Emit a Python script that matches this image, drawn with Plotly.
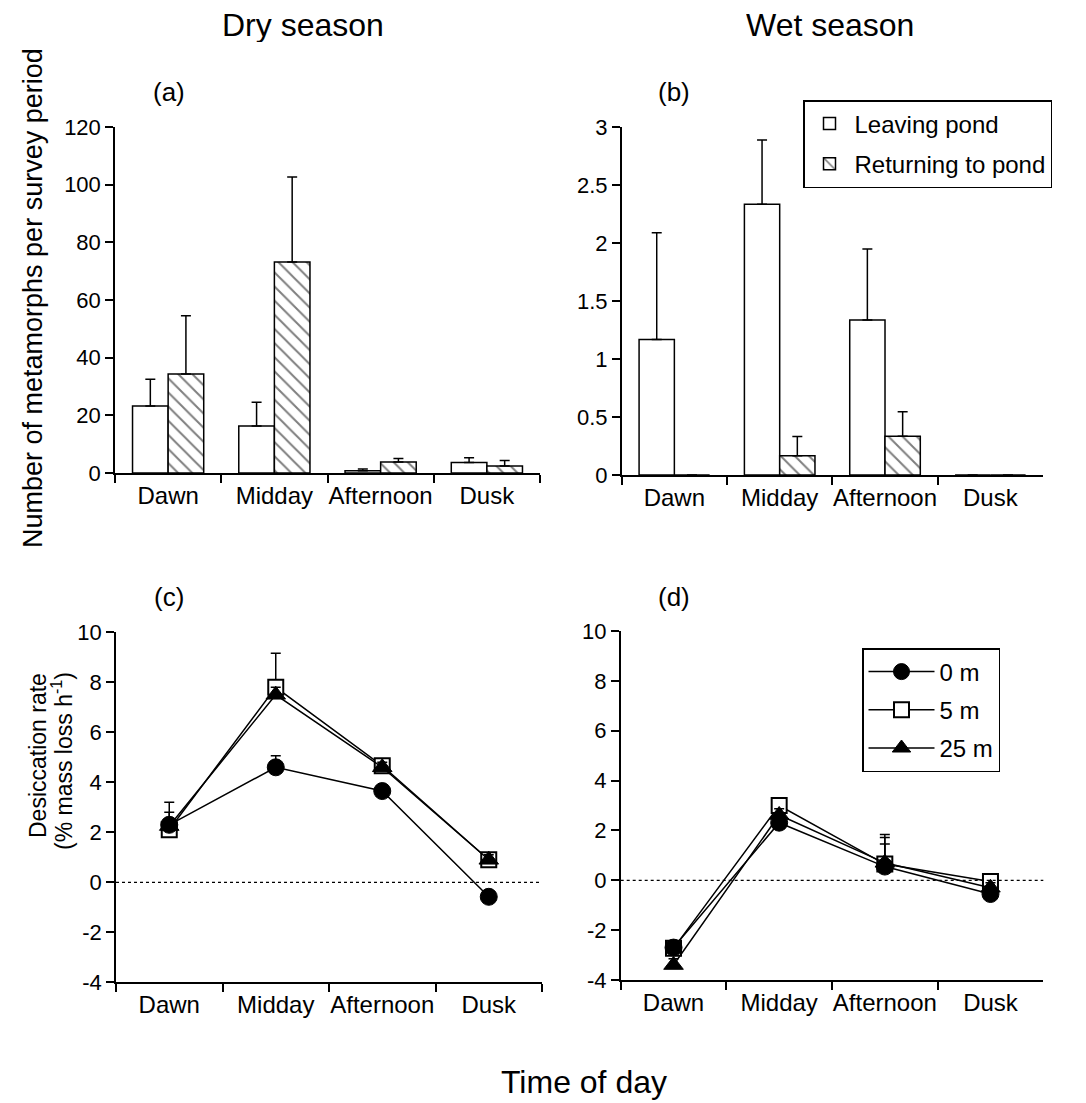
import plotly.graph_objects as go

# ---------------- data ----------------
categories = ["Dawn", "Midday", "Afternoon", "Dusk"]

dry_leaving = [23.2, 16.3, 0.8, 3.6]
dry_leaving_err = [9.3, 8.2, 0.6, 1.7]
dry_returning = [34.3, 73.2, 3.8, 2.4]
dry_returning_err = [20.2, 29.5, 1.2, 1.9]

wet_leaving = [1.17, 2.335, 1.337, 0]
wet_leaving_err = [0.92, 0.555, 0.613, None]
wet_returning = [0, 0.167, 0.334, 0]
wet_returning_err = [None, 0.166, 0.212, None]

dry_0m = [2.3, 4.6, 3.65, -0.58]
dry_0m_err = [0.5, 0.46, 0.2, 0.2]
dry_5m = [2.1, 7.8, 4.66, 0.9]
dry_5m_err = [0.3, 1.36, 0.2, 0.2]
dry_25m = [2.25, 7.5, 4.6, 0.9]
dry_25m_err = [0.95, 0.3, 0.2, 0.2]

wet_0m = [-2.7, 2.31, 0.55, -0.55]
wet_0m_err = [0.25, 0.25, 0.91, 0.2]
wet_5m = [-2.73, 3.0, 0.65, -0.05]
wet_5m_err = [0.25, 0.25, 1.07, 0.2]
wet_25m = [-3.4, 2.62, 0.7, -0.3]
wet_25m_err = [0.25, 0.25, 1.14, 0.2]

desic_tickvals = [-4, -2, 0, 2, 4, 6, 8, 10]
desic_ticktext = ["-4", "-2", "0", "2", "4", "6", "8", "10"]

# ---------------- layout helpers ----------------
W, H = 1086, 1103
OFF = 8  # page body margin
FONT = "Liberation Sans, Arial, Helvetica, sans-serif"


def px(x):
    return (x - OFF) / W


def py(y):
    return 1 - (y - OFF) / H


fig = go.Figure()

bar_line = dict(color="black", width=1.5)
err_style = dict(color="black", thickness=1.5, width=5)
hatch = dict(shape="\\", fgcolor="black", bgcolor="white", size=10, solidity=0.2, fillmode="overlay")


def errs(arr):
    return dict(type="data", array=arr, arrayminus=[0] * len(arr), symmetric=False, visible=True, **err_style)


# (a) dry season bars
fig.add_trace(go.Bar(x=categories, y=dry_leaving, name="Leaving pond", marker=dict(color="white", line=bar_line),
                     error_y=errs(dry_leaving_err), xaxis="x", yaxis="y", showlegend=False, legendgroup="lv"))
fig.add_trace(go.Bar(x=categories, y=dry_returning, name="Returning to pond",
                     marker=dict(color="white", line=bar_line, pattern=hatch),
                     error_y=errs(dry_returning_err), xaxis="x", yaxis="y", showlegend=False, legendgroup="rt"))
# (b) wet season bars
fig.add_trace(go.Bar(x=categories, y=wet_leaving, name="Leaving pond", marker=dict(color="white", line=bar_line),
                     error_y=errs(wet_leaving_err), xaxis="x2", yaxis="y2", legend="legend", legendgroup="lv"))
fig.add_trace(go.Bar(x=categories, y=wet_returning, name="Returning to pond",
                     marker=dict(color="white", line=bar_line, pattern=hatch),
                     error_y=errs(wet_returning_err), xaxis="x2", yaxis="y2", legend="legend", legendgroup="rt"))

line_style = dict(color="black", width=1.5)
mk_circle = dict(symbol="circle", size=17, color="black", line=dict(color="black", width=1))
mk_square = dict(symbol="square", size=15, color="white", line=dict(color="black", width=2))
mk_tri = dict(symbol="triangle-up", size=17, color="black", line=dict(color="black", width=1))


def scat(y, e, name, mk, xa, ya, show, rank):
    return go.Scatter(x=categories, y=y, name=name, mode="lines+markers", line=line_style, marker=mk,
                      error_y=errs(e), xaxis=xa, yaxis=ya, showlegend=show, legend="legend2",
                      legendgroup=name, legendrank=rank)


# (c) dry desiccation
fig.add_trace(scat(dry_5m, dry_5m_err, "5 m", mk_square, "x3", "y3", False, 2))
fig.add_trace(scat(dry_0m, dry_0m_err, "0 m", mk_circle, "x3", "y3", False, 1))
fig.add_trace(scat(dry_25m, dry_25m_err, "25 m", mk_tri, "x3", "y3", False, 3))
# (d) wet desiccation
fig.add_trace(scat(wet_5m, wet_5m_err, "5 m", mk_square, "x4", "y4", True, 2))
fig.add_trace(scat(wet_0m, wet_0m_err, "0 m", mk_circle, "x4", "y4", True, 1))
fig.add_trace(scat(wet_25m, wet_25m_err, "25 m", mk_tri, "x4", "y4", True, 3))

axis_common = dict(showline=True, linecolor="black", linewidth=1.5, showgrid=False, zeroline=False,
                   ticks="outside", tickcolor="black", tickwidth=1.5, ticklen=8, automargin=False,
                   tickfont=dict(family=FONT, size=22, color="black"))
xcat = dict(axis_common, type="category", categoryorder="array", categoryarray=categories,
            range=[-0.5, 3.5], tickson="boundaries", tickangle=0,
            tickfont=dict(family=FONT, size=24, color="black"))

fig.update_layout(
    width=W, height=H, margin=dict(l=0, r=0, t=0, b=0, autoexpand=False),
    paper_bgcolor="white", plot_bgcolor="white",
    font=dict(family=FONT, color="black"),
    barmode="group", bargap=0.33, bargroupgap=0,
    xaxis=dict(xcat, domain=[px(115), px(540)], anchor="y"),
    yaxis=dict(axis_common, domain=[py(473), py(127)], range=[0, 120], dtick=20, anchor="x"),
    xaxis2=dict(xcat, domain=[px(621.7), px(1043)], anchor="y2"),
    yaxis2=dict(axis_common, domain=[py(475), py(127.3)], range=[0, 3], dtick=0.5, anchor="x2"),
    xaxis3=dict(xcat, domain=[px(116), px(542)], anchor="y3"),
    yaxis3=dict(axis_common, domain=[py(982.3), py(632.3)], range=[-4, 10],
                tickvals=desic_tickvals, ticktext=desic_ticktext, anchor="x3"),
    xaxis4=dict(xcat, domain=[px(620.7), px(1043.3)], anchor="y4"),
    yaxis4=dict(axis_common, domain=[py(980), py(631)], range=[-4, 10],
                tickvals=desic_tickvals, ticktext=desic_ticktext, anchor="x4"),
    legend=dict(x=px(803), y=py(100), xanchor="left", yanchor="top", bgcolor="white",
                bordercolor="black", borderwidth=1.5, font=dict(family=FONT, size=24, color="black"),
                tracegroupgap=6, itemwidth=40),
    legend2=dict(x=px(862), y=py(648), xanchor="left", yanchor="top", bgcolor="white",
                 bordercolor="black", borderwidth=1.5, font=dict(family=FONT, size=24, color="black"),
                 tracegroupgap=4, itemwidth=66),
    showlegend=True,
)

# zero reference lines in (c) and (d)
for xr, yr in (("x3", "y3"), ("x4", "y4")):
    fig.add_shape(type="line", xref=f"{xr} domain", yref=yr, x0=0, x1=1, y0=0, y1=0,
                  line=dict(color="black", width=1.2, dash="dot"))

ann = []


def text(t, x, y, size, angle=0, height=None):
    a = dict(text=t, x=px(x), y=py(y), xref="paper", yref="paper", showarrow=False,
             xanchor="center", yanchor="middle", textangle=angle,
             font=dict(family=FONT, size=size, color="black"))
    if height:
        a["height"] = height
        a["valign"] = "middle"
    ann.append(a)


text("Dry season", 303, 25, 32, height=34)
text("Wet season", 830, 25, 32, height=34)
text("(a)", 169, 92, 26)
text("(b)", 674, 92, 26)
text("(c)", 169, 597, 26)
text("(d)", 674, 597, 26)
text("Number of metamorphs per survey period", 33, 298, 27, -90)
text("Desiccation rate", 38, 756, 23, -90)
text("(% mass loss h<sup>-1</sup>)", 62, 761, 23, -90)
text("Time of day", 584, 1082, 32)
fig.update_layout(annotations=ann)

fig.write_html("out.html")
